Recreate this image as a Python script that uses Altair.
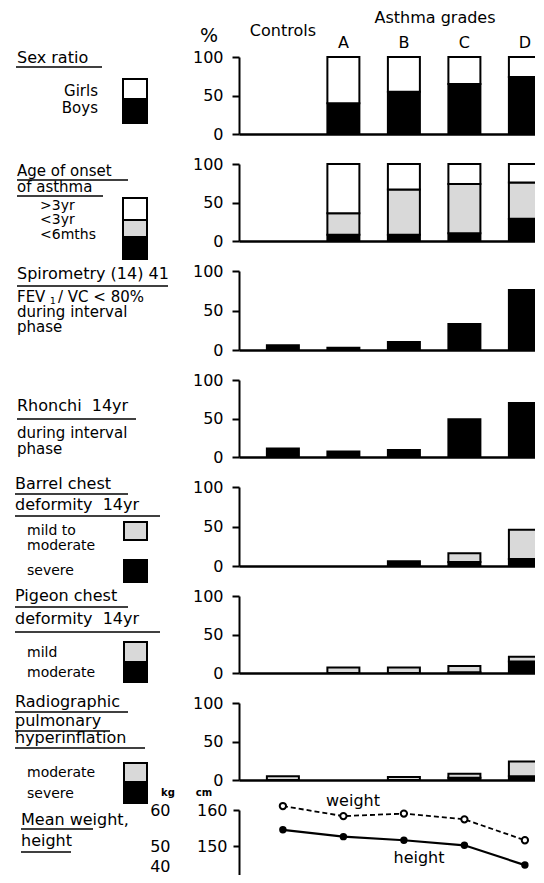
import altair as alt
import pandas as pd

GROUPS = ["Controls", "A", "B", "C", "D"]

# percentages
sex_boys = [None, 40, 55, 65, 74]
sex_girls = [None, 60, 45, 35, 26]

onset_lt6m = [None, 8, 8, 10, 29]
onset_lt3y = [None, 28, 59, 64, 47]
onset_gt3y = [None, 64, 33, 26, 24]

spirometry = [6, 3, 10, 33, 76]
rhonchi = [11, 7, 9, 49, 70]

barrel_severe = [0, 0, 6, 5, 9]
barrel_mild = [0, 0, 0, 11, 37]

pigeon_moderate = [0, 0, 0, 1, 15]
pigeon_mild = [0, 7, 7, 8, 6]

radio_severe = [0, 0, 0, 3, 5]
radio_moderate = [5, 0, 4, 5, 19]

weight_kg = [61.1, 58.3, 59.0, 57.4, 51.6]
height_cm = [154.5, 152.6, 151.6, 150.2, 144.7]

FONT = "DejaVu Sans"
PLOT_LEFT = 239
TOPS = [57, 164, 271, 380, 487, 596, 703, 810]
HEIGHTS = [77, 77, 79, 77, 79, 77, 77, 72]
W = 305
STIPPLE = "#d9d9d9"
SP2 = "\u00a0\u00a0"

ONE = pd.DataFrame({"k": [0]})

XBAND = alt.Scale(type="band", domain=GROUPS, paddingInner=0.471, paddingOuter=0.256, align=0.9)
XAXIS = alt.Axis(labels=False, ticks=False, title=None, domain=True, domainColor="black",
                 domainWidth=2.5, grid=False)
YAXIS = alt.Axis(values=[0, 50, 100], title=None, grid=False, tickSize=7, tickWidth=2,
                 tickColor="black", domainColor="black", domainWidth=2, labelFont=FONT,
                 labelFontSize=16, labelColor="black", labelPadding=9)
COLOR = alt.Scale(domain=["solid", "stipple", "open"], range=["black", STIPPLE, "white"])


def T(top, s, px, py, size=16, align="left", weight="normal"):
    return alt.Chart(ONE).mark_text(text=s, font=FONT, fontSize=size, align=align,
                                    baseline="alphabetic", color="black",
                                    fontWeight=weight).encode(
        x=alt.value(px - PLOT_LEFT), y=alt.value(py - top))


def U(top, x1, x2, py):
    return alt.Chart(ONE).mark_rule(color="black", strokeWidth=1.5).encode(
        x=alt.value(x1 - PLOT_LEFT), x2=alt.value(x2 - PLOT_LEFT), y=alt.value(py - top))


def R(top, x1, x2, y1, y2, fill):
    return alt.Chart(ONE).mark_rect(fill=fill, stroke="black", strokeWidth=2).encode(
        x=alt.value(x1 - PLOT_LEFT), x2=alt.value(x2 - PLOT_LEFT),
        y=alt.value(y1 - top), y2=alt.value(y2 - top))


def bars(parts):
    rows = []
    for rank, (level, vals) in enumerate(parts):
        for g, v in zip(GROUPS, vals):
            if v:
                rows.append(dict(group=g, level=level, rank=rank, value=v))
    df = pd.DataFrame(rows)
    return alt.Chart(df).mark_bar(stroke="black", strokeWidth=2).encode(
        x=alt.X("group:N", scale=XBAND, axis=XAXIS, sort=GROUPS),
        y=alt.Y("value:Q", stack="zero", scale=alt.Scale(domain=[0, 100]), axis=YAXIS),
        color=alt.Color("level:N", scale=COLOR, legend=None),
        order=alt.Order("rank:Q"),
    )


# ---- Panel 1: sex ratio
t = TOPS[0]
hdr = pd.DataFrame({"group": GROUPS})
p1 = alt.layer(
    bars([("solid", sex_boys), ("open", sex_girls)]),
    alt.Chart(hdr).transform_filter("datum.group == 'Controls'").mark_text(
        font=FONT, fontSize=16, baseline="alphabetic", color="black").encode(
        x=alt.X("group:N", scale=XBAND, axis=XAXIS, sort=GROUPS), y=alt.value(36 - t),
        text="group:N"),
    alt.Chart(hdr).transform_filter("datum.group != 'Controls'").mark_text(
        font=FONT, fontSize=16, baseline="alphabetic", color="black").encode(
        x=alt.X("group:N", scale=XBAND, axis=XAXIS, sort=GROUPS), y=alt.value(48 - t),
        text="group:N"),
    T(t, "Asthma grades", 435, 23, align="center"),
    T(t, "%", 209, 42, size=19, align="center"),
    T(t, "Sex ratio", 17, 63), U(t, 16, 102, 67),
    T(t, "Girls", 98, 96, size=15, align="right"), T(t, "Boys", 98, 113, size=15, align="right"),
    R(t, 123, 147, 79, 99, "white"), R(t, 123, 147, 99, 123, "black"),
    alt.Chart(ONE).mark_rule(color="white", strokeWidth=1).encode(
        x=alt.value(-230.5), x2=alt.value(-229.5), y=alt.value(-48.5)),
).properties(width=W, height=HEIGHTS[0])

# ---- Panel 2: age of onset
t = TOPS[1]
p2 = alt.layer(
    bars([("solid", onset_lt6m), ("stipple", onset_lt3y), ("open", onset_gt3y)]),
    T(t, "Age of onset", 17, 176, size=15), U(t, 17, 128, 180),
    T(t, "of asthma", 17, 192, size=15), U(t, 17, 103, 196),
    T(t, ">3yr", 40, 210, size=14), T(t, "<3yr", 40, 224, size=14), T(t, "<6mths", 40, 239, size=14),
    R(t, 123, 147, 198, 220, "white"), R(t, 123, 147, 220, 237, STIPPLE),
    R(t, 123, 147, 237, 259, "black"),
).properties(width=W, height=HEIGHTS[1])

# ---- Panel 3: spirometry
t = TOPS[2]
p3 = alt.layer(
    bars([("solid", spirometry)]),
    T(t, "Spirometry (14) 41", 17, 279), U(t, 17, 168, 286),
    T(t, "FEV", 17, 302, size=15), T(t, "1", 50, 304, size=9), T(t, "/ VC < 80%", 58, 302, size=15),
    T(t, "during interval", 17, 317, size=15), T(t, "phase", 17, 332, size=15),
).properties(width=W, height=HEIGHTS[2])

# ---- Panel 4: rhonchi
t = TOPS[3]
p4 = alt.layer(
    bars([("solid", rhonchi)]),
    T(t, "Rhonchi" + SP2 + "14yr", 17, 411), U(t, 17, 136, 419),
    T(t, "during interval", 17, 438, size=15), T(t, "phase", 17, 454, size=15),
).properties(width=W, height=HEIGHTS[3])

# ---- Panel 5: barrel chest
t = TOPS[4]
p5 = alt.layer(
    bars([("solid", barrel_severe), ("stipple", barrel_mild)]),
    T(t, "Barrel chest", 15, 489), U(t, 15, 128, 494),
    T(t, "deformity" + SP2 + "14yr", 15, 510), U(t, 15, 160, 516),
    T(t, "mild to", 27, 535, size=14), T(t, "moderate", 27, 550, size=14),
    T(t, "severe", 27, 575, size=14),
    R(t, 124, 147, 522, 540, STIPPLE), R(t, 124, 147, 560, 582, "black"),
).properties(width=W, height=HEIGHTS[4])

# ---- Panel 6: pigeon chest
t = TOPS[5]
p6 = alt.layer(
    bars([("solid", pigeon_moderate), ("stipple", pigeon_mild)]),
    T(t, "Pigeon chest", 15, 601), U(t, 15, 128, 607),
    T(t, "deformity" + SP2 + "14yr", 15, 624), U(t, 15, 160, 632),
    T(t, "mild", 27, 657, size=14), T(t, "moderate", 27, 677, size=14),
    R(t, 124, 147, 642, 662, STIPPLE), R(t, 124, 147, 662, 682, "black"),
).properties(width=W, height=HEIGHTS[5])

# ---- Panel 7: radiographic hyperinflation
t = TOPS[6]
p7 = alt.layer(
    bars([("solid", radio_severe), ("stipple", radio_moderate)]),
    T(t, "Radiographic", 15, 707), U(t, 15, 128, 712),
    T(t, "pulmonary", 15, 726), U(t, 15, 110, 731),
    T(t, "hyperinflation", 15, 743), U(t, 15, 145, 748),
    T(t, "moderate", 27, 777, size=14), T(t, "severe", 27, 798, size=14),
    R(t, 124, 147, 763, 782, STIPPLE), R(t, 124, 147, 782, 803, "black"),
).properties(width=W, height=HEIGHTS[6])

# ---- Panel 8: mean weight / height
t = TOPS[7]
line_df = pd.DataFrame({"group": GROUPS, "weight": weight_kg, "height": height_cm})
HAX = alt.Axis(values=[150, 160], title=None, grid=False, tickSize=6, tickWidth=2,
               tickColor="black", domainColor="black", domainWidth=2, labelFont=FONT,
               labelFontSize=16, labelColor="black", labelPadding=6)
WAX = alt.Axis(orient="left", values=[40, 50, 60], offset=69, title=None, grid=False,
               ticks=False, tickSize=0, domain=False, labelFont=FONT, labelFontSize=16,
               labelColor="black", labelPadding=0,
               labelBaseline={"condition": {"test": "datum.value == 40", "value": "bottom"},
                              "value": "middle"},
               labelOffset={"condition": {"test": "datum.value == 40", "value": -8},
                            "value": 0})
NOX = alt.Axis(labels=False, ticks=False, domain=False, title=None, grid=False)
hx = alt.X("group:N", scale=XBAND, axis=NOX, sort=GROUPS)
hy = alt.Y("height:Q", scale=alt.Scale(domain=[140, 160]), axis=HAX)
wy = alt.Y("weight:Q", scale=alt.Scale(domain=[40, 60]), axis=WAX)
base = alt.Chart(line_df)
h_layer = alt.layer(
    base.mark_line(color="black", strokeWidth=2.2).encode(x=hx, y=hy),
    base.mark_point(filled=True, color="black", size=55, opacity=1).encode(x=hx, y=hy),
)
w_layer = alt.layer(
    base.mark_line(color="black", strokeWidth=1.8, strokeDash=[5, 3]).encode(x=hx, y=wy),
    base.mark_point(fill="white", stroke="black", strokeWidth=2, size=40, opacity=1).encode(x=hx, y=wy),
)
p8 = alt.layer(
    alt.layer(h_layer, w_layer).resolve_scale(y="independent"),
    T(t, "Mean weight,", 21, 825), U(t, 21, 93, 829),
    T(t, "height", 21, 846), U(t, 21, 71, 852),
    T(t, "kg", 168, 796, size=10, align="center", weight="bold"),
    T(t, "cm", 204, 796, size=10, align="center", weight="bold"),
    T(t, "weight", 353, 806, align="center"), T(t, "height", 419, 863, align="center"),
).properties(width=W, height=HEIGHTS[7])

chart = alt.vconcat(p1, p2, p3, p4, p5, p6, p7, p8, spacing=30, bounds="flush").properties(
    padding={"left": 0, "top": 0, "right": -9, "bottom": -7}).configure_view(stroke=None)

chart.save("out.html", embed_options={"renderer": "svg", "actions": False})
